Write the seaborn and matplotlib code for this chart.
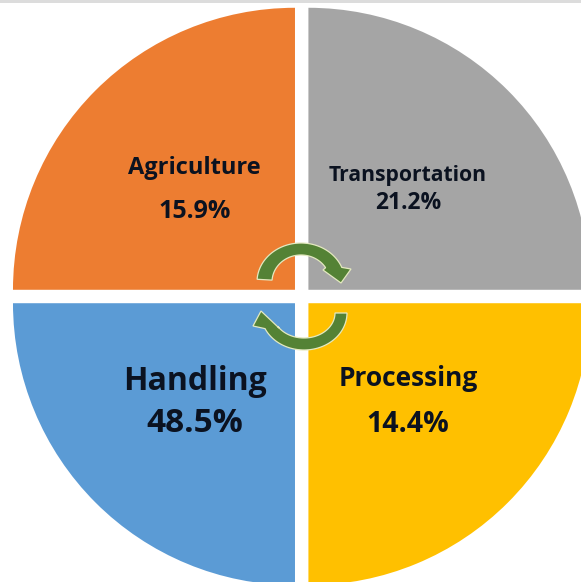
import numpy as np
import matplotlib
matplotlib.use("Agg")
import matplotlib.pyplot as plt
from matplotlib.patches import Polygon, Rectangle
import seaborn as sns

categories = ["Transportation", "Agriculture", "Handling", "Processing"]
shares = ["21.2%", "15.9%", "48.5%", "14.4%"]
quadrants = [1, 1, 1, 1]
colors = ["#A5A5A5", "#ED7D31", "#5B9BD5", "#FFC000"]

sns.set_theme(style="white")
plt.rcParams["font.family"] = ["Open Sans", "DejaVu Sans"]
W, H = 581, 582
fig = plt.figure(figsize=(W / 100, H / 100), dpi=100, facecolor="white")
ax = fig.add_axes([0, 0, 1, 1])

ax.pie(quadrants, colors=sns.color_palette(colors), startangle=0, counterclock=True,
       center=(301.7, H - 296.5), radius=282, explode=[9.5] * 4, frame=True,
       wedgeprops=dict(linewidth=0))
ax.set_xlim(0, W)
ax.set_ylim(0, H)
ax.set_aspect("equal")
ax.axis("off")

ax.add_patch(Rectangle((0, H - 3), W, 3, color="#DCDCDC", lw=0, zorder=5))


def arc(cx, cy, rx, ry, a0, a1):
    t = np.radians(np.linspace(a0, a1, 60))
    return np.c_[cx + rx * np.cos(t), cy - ry * np.sin(t)]


def arrow(outer, inner, head):
    pts = np.vstack([outer, head, inner[::-1]])
    pts[:, 1] = H - pts[:, 1]
    ax.add_patch(Polygon(pts, closed=True, fc="#548235", ec="#E4E9C0", lw=0.9, zorder=6))


arrow(arc(301, 282, 44, 39, 176, 22), arc(301, 282, 29, 27, 176, 32),
      [(351, 269), (341, 283), (323, 270)])
arrow(arc(304, 313, 43, 37, 0, -155), arc(304, 313, 31, 25, 0, -148),
      [(253, 326), (261, 311), (279, 328)])

ink = "#0B1220"
texts = [
    (categories[1], 194, 168, 17), (shares[1], 195, 212, 18),
    (categories[0], 408, 175, 15.2), (shares[0], 408, 203, 16.5),
    (categories[2], 195, 382, 23), (shares[2], 195, 423, 24),
    (categories[3], 408, 378, 19), (shares[3], 408, 425, 20.5),
]
for s, x, y, size in texts:
    ax.text(x, H - y, s, ha="center", va="center", fontsize=size, fontweight="bold",
            color=ink, zorder=7)

fig.savefig("out.png", dpi=100, facecolor="white")
